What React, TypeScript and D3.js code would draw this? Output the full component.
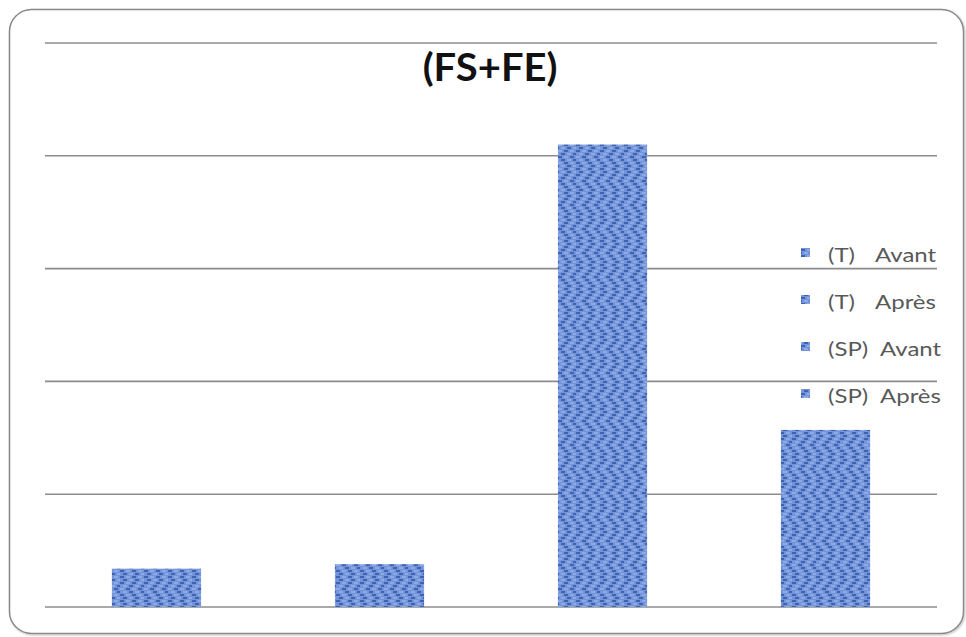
import React from "react";
import * as d3 from "d3";

// Categories and values (FS+FE), one bar per group
const categories = ["(T) Avant", "(T) Après", "(SP) Avant", "(SP) Après"];
const legendGroups = ["(T)", "(T)", "(SP)", "(SP)"];
const legendStates = ["Avant", "Après", "Avant", "Après"];
const values = [0.34, 0.38, 4.1, 1.57];
const gridTicks = [0, 1, 2, 3, 4, 5];

const W = 966;
const H = 637;
const plot = { left: 45, right: 937, top: 43, bottom: 607 };

export default function App() {
  const x = d3
    .scaleBand<string>()
    .domain(categories)
    .range([plot.left, plot.right])
    .paddingInner(0.6)
    .paddingOuter(0.3);
  const y = d3.scaleLinear().domain([0, 5]).range([plot.bottom, plot.top]);

  // woven texture cells for the bar fill
  const cells: { x: number; y: number; w: number; h: number; c: string }[] = [];
  const shades = ["#3f63b0", "#a9c1ee", "#5677c4", "#8eaae4", "#2f4f9c", "#c3d4f5"];
  for (let r = 0; r < 8; r++) {
    for (let c = 0; c < 4; c++) {
      const k = (r * 5 + c * 3 + (r % 3)) % shades.length;
      cells.push({ x: c * 6 + (r % 2) * 3, y: r * 3, w: 4, h: 2, c: shades[k] });
    }
  }

  const fontFamily = "Lato, 'Open Sans', sans-serif";

  return (
    <svg
      width={W}
      height={H}
      style={{ position: "fixed", left: 0, top: 0, background: "#fff" }}
    >
      <defs>
        <pattern id="weave" width={24} height={24} patternUnits="userSpaceOnUse">
          <rect width={24} height={24} fill="#7394da" />
          {cells.map((d, i) => (
            <rect key={i} x={d.x % 24} y={d.y} width={d.w} height={d.h} fill={d.c} />
          ))}
        </pattern>
        <filter id="soft" x="-5%" y="-5%" width="110%" height="110%">
          <feGaussianBlur stdDeviation="0.6" />
        </filter>
        <filter id="shadow" x="-5%" y="-5%" width="110%" height="110%">
          <feDropShadow dx="1" dy="1" stdDeviation="1" floodColor="#000" floodOpacity="0.25" />
        </filter>
      </defs>

      {/* frame */}
      <rect
        x={9.5}
        y={9.5}
        width={954}
        height={624}
        rx={22}
        fill="#fff"
        stroke="#8a8a8a"
        strokeWidth={1.5}
        filter="url(#shadow)"
      />

      {/* gridlines */}
      <g>
        {gridTicks.map((t) => (
          <line
            key={t}
            x1={plot.left}
            x2={plot.right}
            y1={y(t)}
            y2={y(t)}
            stroke="#8c8c8c"
            strokeWidth={1.6}
          />
        ))}
      </g>

      {/* bars */}
      <g filter="url(#soft)">
        {categories.map((c, i) => (
          <rect
            key={c}
            x={x(c)}
            y={y(values[i])}
            width={x.bandwidth()}
            height={y(0) - y(values[i])}
            fill="url(#weave)"
          />
        ))}
      </g>

      {/* title */}
      <text
        transform="translate(490, 81) scale(1.05, 1)"
        textAnchor="middle"
        fontFamily={fontFamily}
        fontWeight="bold"
        fontSize={38}
        fill="#111"
      >
        (FS+FE)
      </text>

      {/* legend */}
      <g fontFamily={fontFamily} fontSize={20} fill="#595959">
        {legendGroups.map((g, i) => {
          const base = 262 + i * 47;
          const wordX = g.length > 3 ? 880 : 875;
          return (
            <g key={i}>
              <rect x={801} y={base - 14} width={9} height={9} fill="url(#weave)" />
              <text transform={`translate(828, ${base}) scale(1.2, 1)`}>{g}</text>
              <text transform={`translate(${wordX}, ${base}) scale(1.2, 1)`}>
                {legendStates[i]}
              </text>
            </g>
          );
        })}
      </g>
    </svg>
  );
}
